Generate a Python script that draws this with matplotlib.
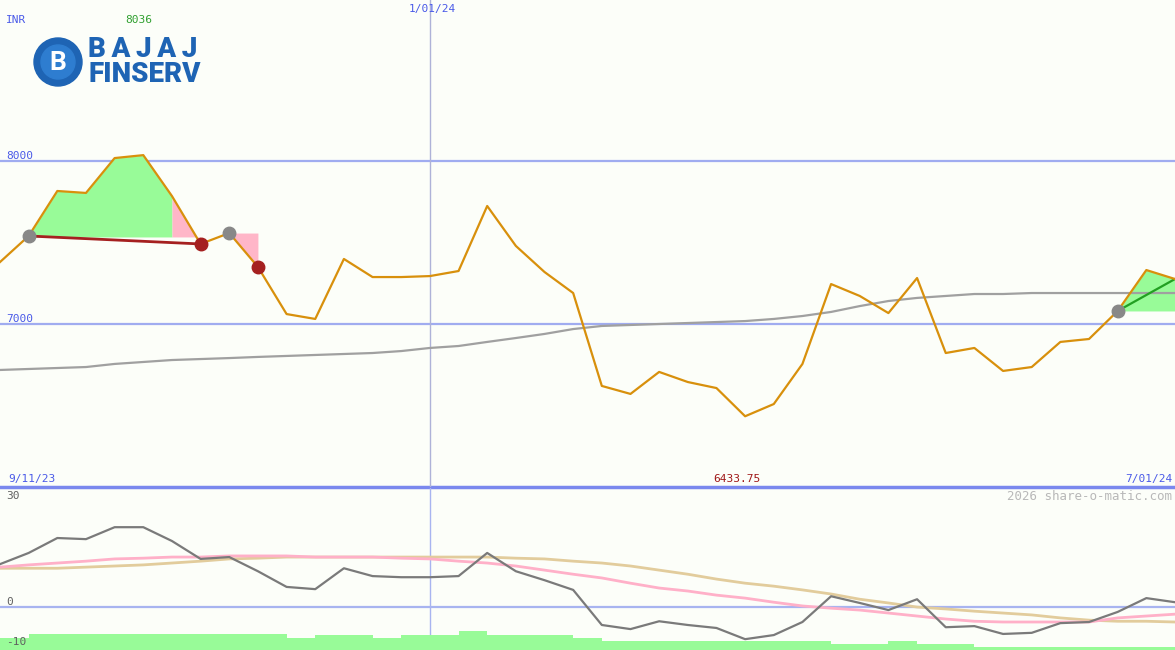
import matplotlib.pyplot as plt
from matplotlib.patches import Ellipse
import numpy as np

# weekly closes (INR), 9/11/23 .. 7/01/24
price = [7380, 7540, 7816, 7804, 8018, 8036, 7785, 7491, 7558, 7350,
         7061, 7031, 7399, 7288, 7288, 7294, 7325, 7724, 7479, 7319,
         7190, 6620, 6571, 6706, 6644, 6607, 6434, 6509, 6755, 7245,
         7172, 7067, 7282, 6822, 6853, 6712, 6736, 6890, 6908, 7080,
         7331, 7276]
ma_long = [6718, 6724, 6730, 6736, 6755, 6767, 6779, 6785, 6791, 6798,
           6804, 6810, 6816, 6822, 6834, 6853, 6865, 6890, 6914, 6939,
           6969, 6988, 6994, 7000, 7006, 7012, 7018, 7031, 7049, 7074,
           7110, 7141, 7160, 7172, 7184, 7184, 7190, 7190, 7190, 7190,
           7190, 7190]

# oscillator panel
osc = [11.5, 14.5, 18.5, 18.2, 21.4, 21.4, 17.7, 12.9, 13.4, 9.6,
       5.4, 4.8, 10.4, 8.3, 8.0, 8.0, 8.3, 14.5, 9.6, 7.2,
       4.6, -4.8, -5.9, -3.8, -4.8, -5.6, -8.6, -7.5, -4.0, 2.9,
       1.1, -0.8, 2.1, -5.4, -5.1, -7.2, -6.9, -4.3, -4.0, -1.3,
       2.4, 1.3]
osc_pink = [10.7, 11.3, 11.8, 12.3, 12.9, 13.1, 13.4, 13.4, 13.7, 13.7,
            13.7, 13.4, 13.4, 13.4, 13.1, 12.9, 12.3, 11.8, 11.0, 9.9,
            8.8, 7.8, 6.4, 5.1, 4.3, 3.2, 2.4, 1.3, 0.3, -0.3,
            -0.8, -1.6, -2.4, -3.2, -3.8, -4.0, -4.0, -4.0, -4.0, -2.9,
            -2.4, -1.9]
osc_tan = [10.4, 10.4, 10.4, 10.7, 11.0, 11.3, 11.8, 12.3, 12.9, 13.1,
           13.4, 13.4, 13.4, 13.4, 13.4, 13.4, 13.4, 13.4, 13.1, 12.9,
           12.3, 11.8, 11.0, 9.9, 8.8, 7.5, 6.4, 5.6, 4.6, 3.5,
           2.1, 1.1, 0.0, -0.5, -1.1, -1.6, -2.1, -2.9, -3.5, -3.8,
           -3.8, -4.0]
bars = [-8.3, -7.2, -7.2, -7.2, -7.2, -7.2, -7.2, -7.2, -7.2, -7.2,
        -8.3, -7.5, -7.5, -8.3, -7.5, -7.5, -6.4, -7.5, -7.5, -7.5,
        -8.3, -9.1, -9.1, -9.1, -9.1, -9.1, -9.1, -9.1, -9.1, -9.9,
        -9.9, -9.1, -9.9, -9.9, -10.7, -10.7, -10.7, -10.7, -10.7, -10.7,
        -10.7]

date_labels = ['9/11/23', '1/01/24', '7/01/24']
x = np.arange(len(price))
p = np.array(price, dtype=float)

bg = '#FCFEF9'
blue_txt = '#4A5AE8'
fig = plt.figure(figsize=(11.75, 6.5), dpi=100, facecolor=bg)
ax = fig.add_axes([0, 163 / 650, 1, 487 / 650], facecolor=bg)
ax2 = fig.add_axes([0, 0, 1, 162 / 650], facecolor=bg)
for a in (ax, ax2):
    a.set_xlim(0, len(price) - 1)
    a.axis('off')

ax.set_ylim(6000, 6000 + 487 / 163 * 1000)
ax2.set_ylim(-11.5, 31.9)

# grid lines
for lvl in (8000, 7000):
    ax.axhline(lvl, color='#A0ACF0', lw=1.6, zorder=1)
ax.axhline(6000, color='#7A88EE', lw=2.5, zorder=1, clip_on=False)
ax2.axhline(0, color='#A8B4F0', lw=1.6, zorder=1)
ax.axvline(15, color='#AEB2D8', lw=1, zorder=1)
ax2.axvline(15, color='#A8B4F0', lw=1, zorder=1)

# signal zones
xs = np.linspace(1, 6, 200)
ax.fill_between(xs, np.interp(xs, x, p), 7534, color='#98FB98', lw=0, zorder=2)
xs = np.linspace(6, 7, 100)
ax.fill_between(xs, np.interp(xs, x, p), 7534, color='#FFB6C8', lw=0, zorder=2)
xs = np.linspace(8, 9, 100)
ax.fill_between(xs, np.interp(xs, x, p), 7558, color='#FFB6C8', lw=0, zorder=2)
xs = np.linspace(39, 41, 100)
ax.fill_between(xs, np.interp(xs, x, p), 7080, color='#98FB98', lw=0, zorder=2)

ax.plot(x, ma_long, color='#A0A0A0', lw=1.6, zorder=3)
ax.plot([1, 7], [price[1], price[7]], color='#A52020', lw=2, zorder=4)
ax.plot([39, 41], [price[39], price[41]], color='#22A022', lw=1.6, zorder=4)
ax.plot(x, price, color='#D8900C', lw=1.6, zorder=5)
ax.plot([1, 8, 39], [price[1], price[8], price[39]], 'o', color='#888888',
        ms=9, zorder=6)
ax.plot([7, 9], [price[7], price[9]], 'o', color='#A52020', ms=9, zorder=6)

# lower panel
ax2.bar(np.arange(len(bars)) + 0.5, np.array(bars) + 11.5, width=1.0,
        bottom=-11.5, color='#98FB98', lw=0, zorder=2)
ax2.plot(x, osc_tan, color='#E2CC9C', lw=2, zorder=3)
ax2.plot(x, osc_pink, color='#FFB0C8', lw=2, zorder=3)
ax2.plot(x, osc, color='#7A7A7A', lw=1.6, zorder=4)

# texts (pixel positions)
mono = 'DejaVu Sans Mono'
def ptext(px, py, s, color, ha='left', size=8):
    fig.text(px / 1175, 1 - py / 650, s, color=color, ha=ha, va='center',
             family=mono, fontsize=size)

ptext(6, 20, 'INR', blue_txt)
ptext(125, 20, str(max(price)), '#30A030')
ptext(432, 9, date_labels[1], blue_txt, ha='center')
ptext(6, 156, '8000', blue_txt)
ptext(6, 319, '7000', blue_txt)
ptext(8, 479, date_labels[0], blue_txt)
ptext(737, 479, '6433.75', '#A01818', ha='center')
ptext(1172, 479, date_labels[2], blue_txt, ha='right')
ptext(6, 496, '30', '#606060')
ptext(6, 602, '0', '#606060')
ptext(6, 642, '-10', '#606060')
ptext(1172, 496, '2026 share-o-matic.com', '#B8B8B8', ha='right', size=9)

# logo
fig.patches.append(Ellipse((58 / 1175, 1 - 62 / 650), 48 / 1175, 48 / 650,
                           transform=fig.transFigure, color='#1E64B4'))
fig.patches.append(Ellipse((58 / 1175, 1 - 62 / 650), 34 / 1175, 34 / 650,
                           transform=fig.transFigure, color='#2E7DD0'))
fig.text(58 / 1175, 1 - 63 / 650, 'B', color='white', family='Roboto',
         fontweight='bold', fontsize=19, ha='center', va='center')
fig.text(88 / 1175, 1 - 62 / 650, 'B\u2009A\u2009J\u2009A\u2009J\nFINSERV',
         color='#1E64B4', family=['Roboto', 'DejaVu Sans'],
         fontweight='black', fontsize=20, ha='left', va='center',
         linespacing=0.92)

fig.savefig('out.png', dpi=100, facecolor=bg)
